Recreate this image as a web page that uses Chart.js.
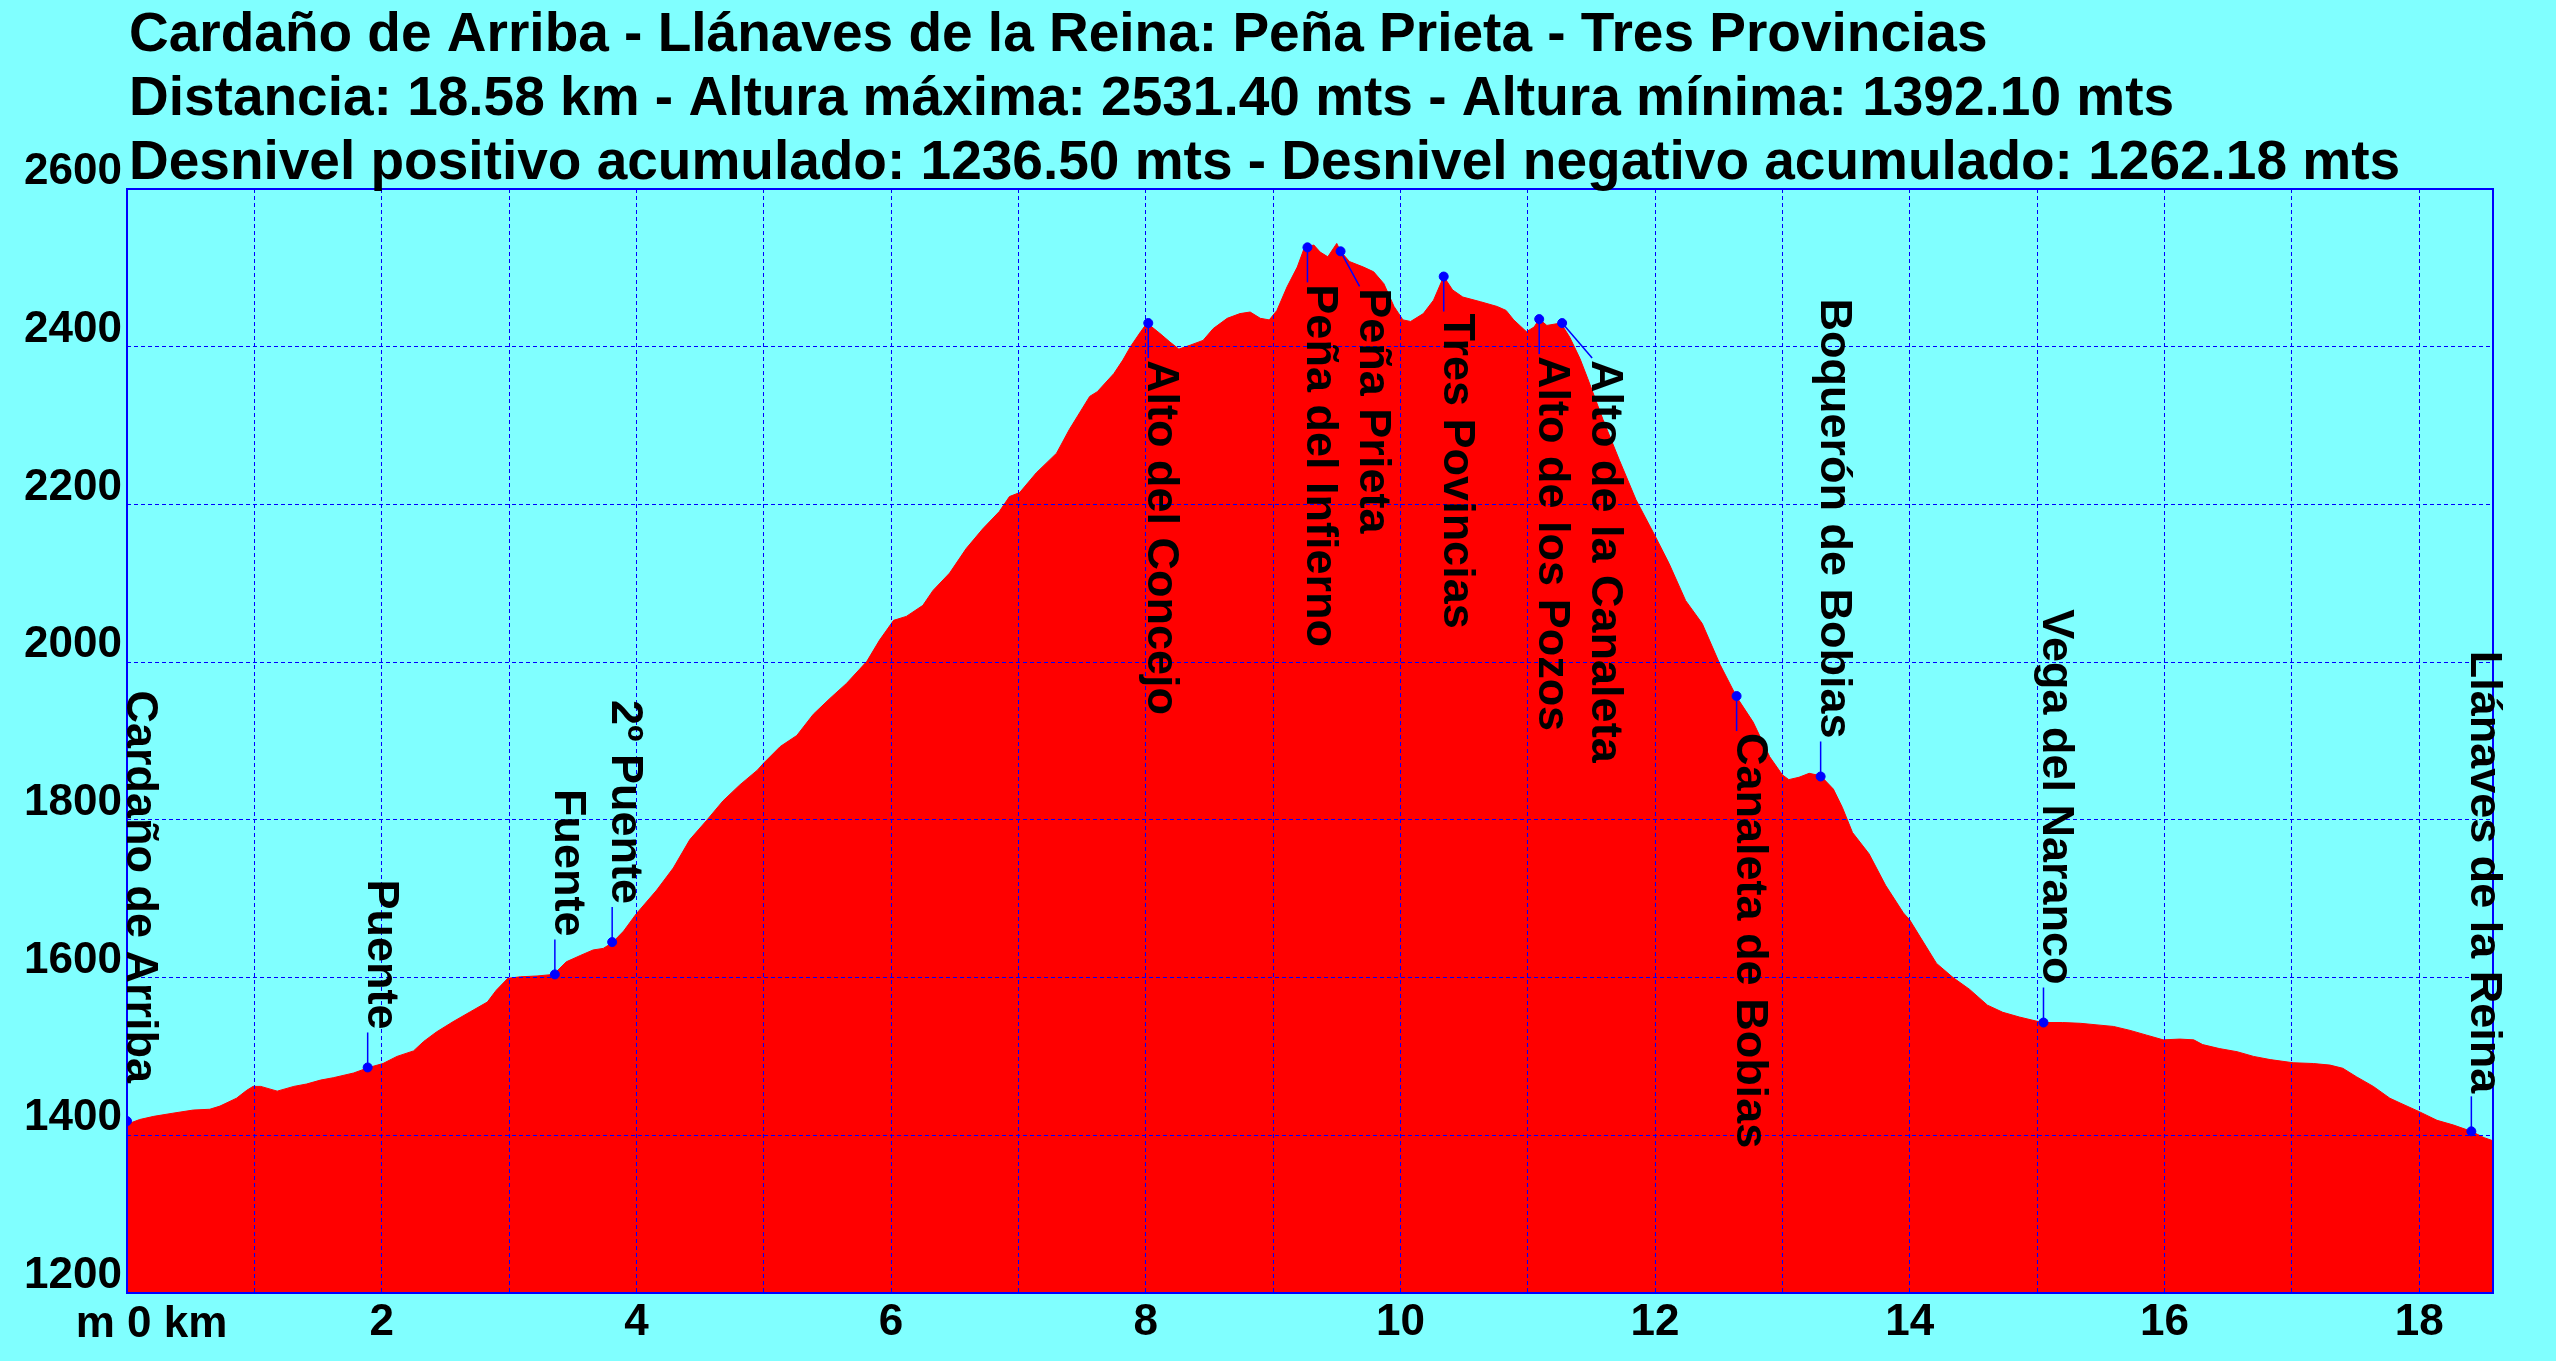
<!DOCTYPE html>
<html>
<head>
<meta charset="utf-8">
<script src="https://cdn.jsdelivr.net/npm/chart.js@4.4.1/dist/chart.umd.min.js"></script>
<style>
html,body{margin:0;padding:0;background:#80ffff;}
#wrap{width:2556px;height:1361px;position:relative;}
</style>
</head>
<body>
<div id="wrap"><canvas id="perfil"></canvas></div>
<script>
const titleLines = [
  'Cardaño de Arriba - Llánaves de la Reina: Peña Prieta - Tres Provincias',
  'Distancia: 18.58 km - Altura máxima: 2531.40 mts - Altura mínima: 1392.10 mts',
  'Desnivel positivo acumulado: 1236.50 mts - Desnivel negativo acumulado: 1262.18 mts'
];

// profile: distance (km) / altitude (m)
const distKm = [0.00,0.10,0.21,0.36,0.52,0.65,0.73,0.86,0.94,0.99,1.05,1.18,1.31,1.41,1.52,1.62,1.78,1.90,2.01,2.12,
  2.25,2.33,2.43,2.56,2.70,2.83,2.90,2.99,3.09,3.22,3.35,3.45,3.56,3.66,3.74,3.81,3.90,4.00,4.16,4.29,
  4.42,4.55,4.68,4.81,4.95,5.00,5.13,5.26,5.39,5.52,5.65,5.81,5.91,6.02,6.12,6.25,6.33,6.46,6.59,6.72,
  6.85,6.93,7.01,7.14,7.30,7.40,7.48,7.56,7.62,7.75,7.82,7.88,7.96,8.01,8.11,8.19,8.26,8.35,8.45,8.53,
  8.64,8.74,8.82,8.90,8.97,9.03,9.11,9.19,9.24,9.28,9.32,9.37,9.43,9.50,9.53,9.60,9.71,9.79,9.87,9.95,
  10.02,10.08,10.18,10.26,10.34,10.41,10.49,10.63,10.76,10.83,10.89,10.99,11.05,11.09,11.15,11.26,11.33,11.41,11.47,11.59,
  11.72,11.85,12.00,12.11,12.24,12.37,12.51,12.64,12.77,12.90,13.00,13.05,13.13,13.21,13.30,13.40,13.47,13.55,13.68,13.81,
  13.95,14.00,14.08,14.21,14.34,14.47,14.61,14.73,14.86,15.04,15.20,15.34,15.47,15.60,15.73,15.86,15.99,16.12,16.23,16.30,
  16.43,16.57,16.70,16.83,17.01,17.17,17.30,17.40,17.51,17.64,17.77,17.85,18.00,18.14,18.27,18.41,18.51,18.58];
const altM = [1414,1420,1424,1428,1432,1433,1437,1447,1457,1462,1462,1456,1462,1465,1470,1473,1479,1486,1491,1500,
  1507,1519,1531,1544,1557,1569,1584,1599,1601,1602,1604,1620,1628,1635,1637,1644,1659,1681,1711,1739,
  1775,1799,1824,1844,1863,1872,1893,1907,1934,1954,1973,2001,2028,2053,2058,2072,2091,2113,2144,2169,
  2191,2210,2215,2240,2265,2295,2316,2337,2343,2366,2383,2400,2419,2430,2417,2406,2397,2402,2408,2423,
  2436,2442,2444,2436,2434,2446,2476,2501,2523,2527,2529,2520,2514,2531,2521,2508,2501,2495,2480,2451,
  2434,2432,2442,2459,2489,2472,2463,2457,2451,2446,2434,2419,2425,2435,2427,2430,2412,2385,2360,2308,
  2256,2206,2160,2125,2078,2049,1997,1956,1924,1880,1857,1851,1854,1859,1856,1839,1816,1784,1757,1717,
  1682,1673,1652,1618,1600,1585,1565,1556,1550,1543,1543,1542,1540,1538,1533,1527,1521,1522,1521,1515,
  1510,1506,1500,1496,1492,1491,1489,1485,1474,1462,1447,1441,1430,1419,1413,1405,1397,1393];

// waypoints
const wpNames = ['Cardaño de Arriba','Puente','Fuente','2º Puente','Alto del Concejo','Peña del Infierno','Peña Prieta',
  'Tres Povincias','Alto de los Pozos','Alto de la Canaleta','Canaleta de Bobias','Boquerón de Bobias','Vega del Naranco','Llánaves de la Reina'];
const wpKm = [0.00,1.89,3.36,3.81,8.02,9.27,9.53,10.34,11.09,11.27,12.64,13.30,15.05,18.41];
const wpAlt = [1418,1486,1604,1645,2430,2526,2521,2489,2435,2430,1957,1855,1543,1405];

const yTickStep = 200, xTickStep = 1;

// label layout
const labelsBelow = ['Alto del Concejo','Peña del Infierno','Peña Prieta','Tres Povincias','Alto de los Pozos','Alto de la Canaleta','Canaleta de Bobias'];
const labelShift = {'Peña Prieta': 19, 'Alto de la Canaleta': 30};
const FONT = "'Liberation Sans', Arial, sans-serif";

const decor = {
  id: 'decor',
  beforeDraw(chart){
    const c = chart.ctx;
    c.save(); c.fillStyle = '#80ffff'; c.fillRect(0,0,chart.width,chart.height); c.restore();
  },
  afterDraw(chart){
    const c = chart.ctx, a = chart.chartArea, xs = chart.scales.x, ys = chart.scales.y;
    c.save();
    // frame
    c.strokeStyle = '#0000ff'; c.lineWidth = 2;
    c.strokeRect(a.left, a.top, a.right - a.left, a.bottom - a.top);
    // title
    c.fillStyle = '#000'; c.font = 'bold 55px ' + FONT; c.textBaseline = 'alphabetic'; c.textAlign = 'left';
    [51,115,179].forEach((y,i)=>c.fillText(titleLines[i], 129, y));
    // axis origin label
    c.font = 'bold 44px ' + FONT; c.textBaseline = 'top';
    const x0 = xs.getPixelForValue(0);
    c.textAlign = 'right'; c.fillText('m ', x0, a.bottom + 10);
    c.textAlign = 'left'; c.fillText('0 km', x0, a.bottom + 10);
    // waypoint leaders and names
    c.font = 'bold 45px ' + FONT; c.textBaseline = 'alphabetic';
    wpNames.forEach((name,i)=>{
      const px = xs.getPixelForValue(wpKm[i]), py = ys.getPixelForValue(wpAlt[i]);
      const below = labelsBelow.includes(name), dx = labelShift[name] || 0;
      const ey = below ? py + 35 : py - 35;
      c.strokeStyle = '#0000ff'; c.lineWidth = 1.5;
      c.beginPath(); c.moveTo(px, py); c.lineTo(px + dx, ey); c.stroke();
      c.save();
      c.translate(px + dx, below ? ey + 2 : ey - 3);
      c.rotate(Math.PI/2);
      c.textAlign = below ? 'left' : 'right';
      c.fillStyle = '#000';
      c.fillText(name, 0, 0);
      c.restore();
    });
    c.restore();
  }
};

new Chart(document.getElementById('perfil'), {
  type: 'line',
  data: {
    datasets: [
      { data: distKm.map((k,i)=>({x:k, y:altM[i]})), borderColor:'#ff0000', backgroundColor:'#ff0000',
        borderWidth:1, fill:'start', pointRadius:0, tension:0, order:2 },
      { data: wpKm.map((k,i)=>({x:k, y:wpAlt[i]})), showLine:false, pointRadius:4.5,
        pointBackgroundColor:'#0000ff', pointBorderColor:'#0000ff', order:1 }
    ]
  },
  options: {
    responsive:true, maintainAspectRatio:false, animation:false, devicePixelRatio:1,
    layout:{ padding:{ top:189, right:63, bottom:0, left:0 } },
    plugins:{ legend:{display:false}, title:{display:false}, tooltip:{enabled:false} },
    scales:{
      x:{ type:'linear', min:0, max:18.58,
        afterFit(s){ s.height = 68; },
        grid:{ color:'#0000ff', lineWidth:1, drawTicks:false, z:1 },
        border:{ display:false, dash:[4,3] },
        ticks:{ stepSize:xTickStep, includeBounds:false, autoSkip:false, maxRotation:0, padding:3, color:'#000',
          font:{ family:FONT, size:44, weight:'bold' },
          callback:v => (v === 0 || v % 2) ? '' : String(v) } },
      y:{ min:1200, max:2600,
        afterFit(s){ s.width = 127; },
        grid:{ color:'#0000ff', lineWidth:1, drawTicks:false, z:1 },
        border:{ display:false, dash:[4,3] },
        ticks:{ stepSize:yTickStep, padding:5, labelOffset:-17, color:'#000',
          font:{ family:FONT, size:44, weight:'bold' },
          callback:v => String(v) } }
    }
  },
  plugins:[decor]
});
</script>
</body>
</html>
